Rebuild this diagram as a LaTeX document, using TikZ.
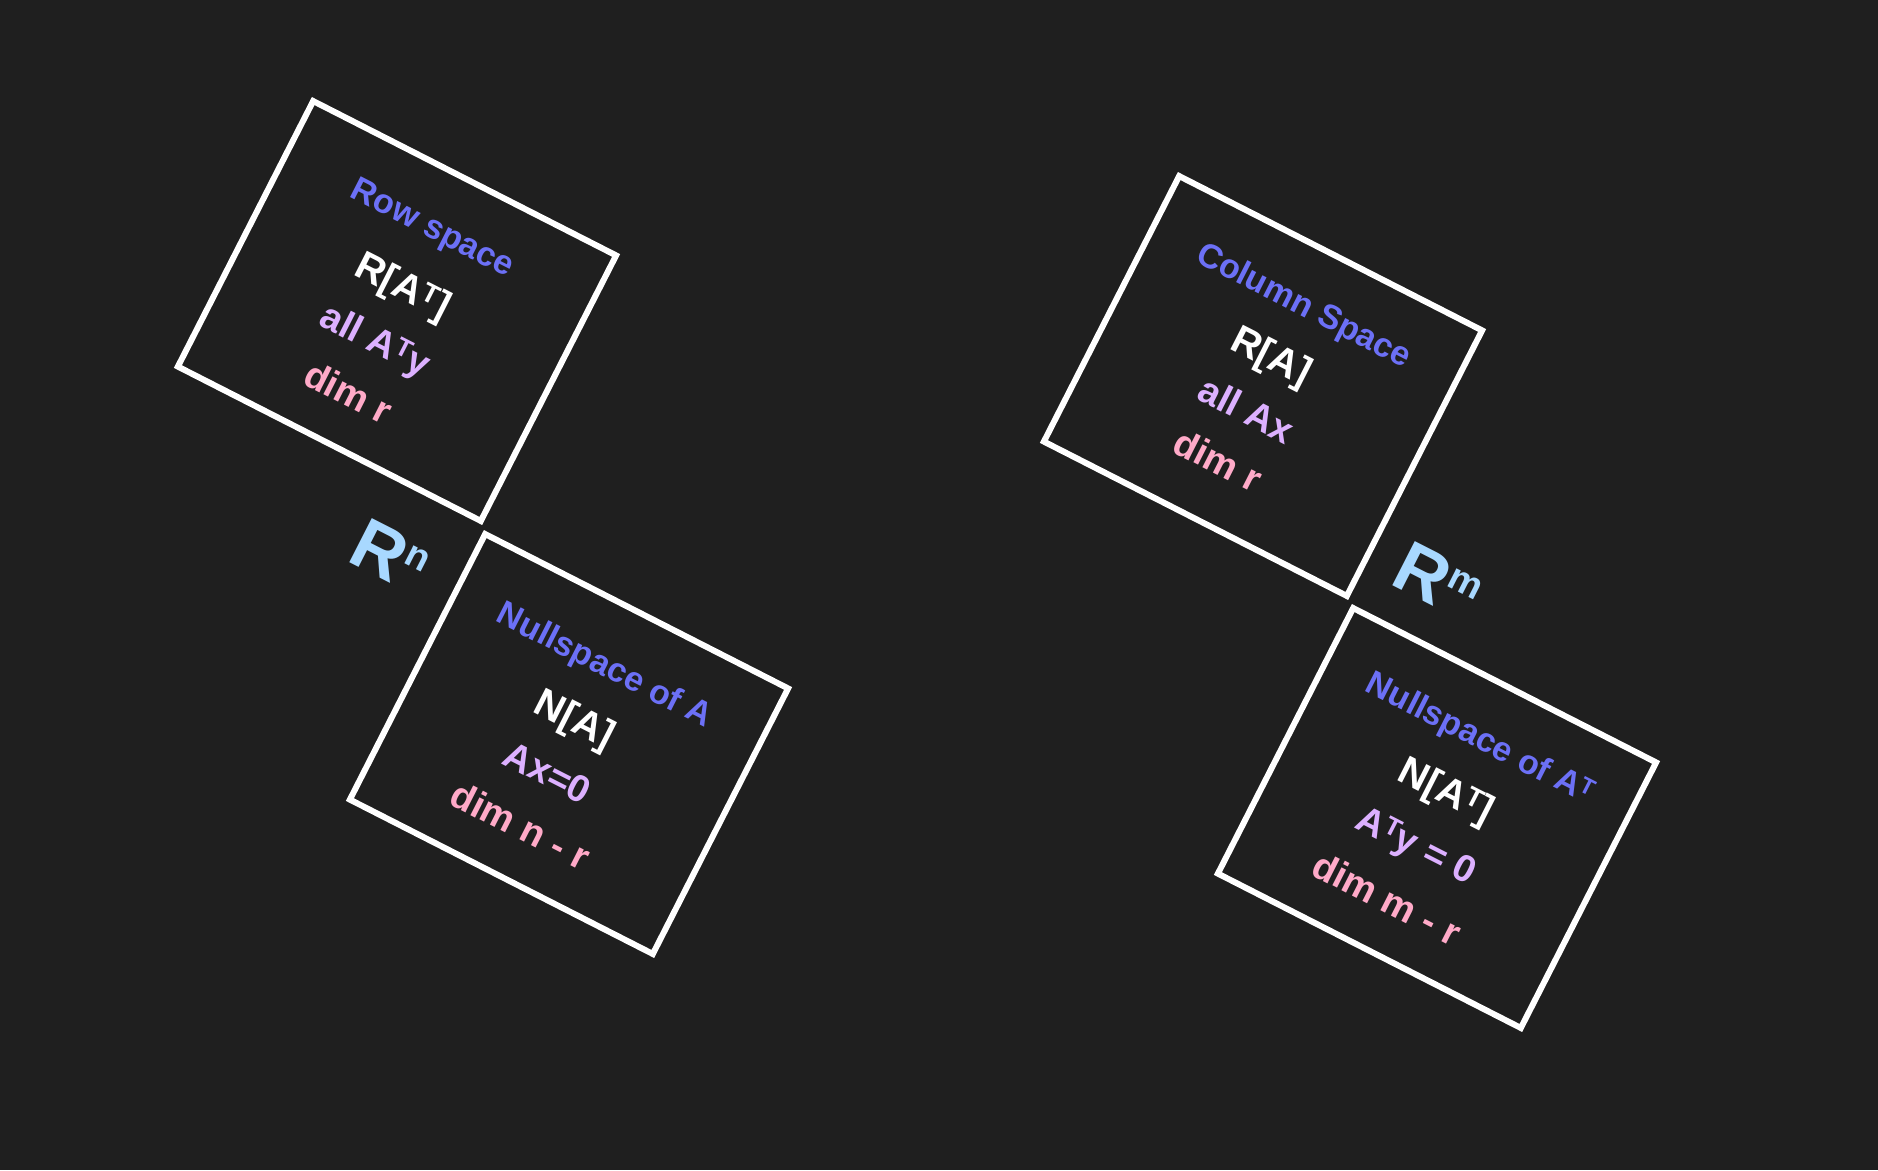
\documentclass[tikz,border=0pt]{standalone}
\usepackage{graphicx}
\usepackage{fontspec}
\newfontfamily\lbl{Liberation Sans}
\definecolor{bg}{HTML}{1F1F1F}
\definecolor{ttlblue}{RGB}{108,112,246}
\definecolor{lav}{RGB}{220,176,255}
\definecolor{pinkc}{RGB}{255,170,200}
\definecolor{skyc}{RGB}{168,216,255}
\newcommand\mysup[1]{\raisebox{0.24em}{\scalebox{0.68}{#1}}}
\tikzset{
  sq/.style={draw=white, line width=6pt, minimum width=340pt, minimum height=298pt, inner sep=0pt},
  ttl/.style={text=ttlblue, font=\lbl\bfseries\fontsize{34}{34}\selectfont, anchor=base, inner sep=0pt},
  wht/.style={text=white, font=\lbl\bfseries\fontsize{40}{40}\selectfont, anchor=base, inner sep=0pt},
  lv/.style={text=lav, font=\lbl\bfseries\fontsize{38}{38}\selectfont, anchor=base, inner sep=0pt},
  pk/.style={text=pinkc, font=\lbl\bfseries\fontsize{38}{38}\selectfont, anchor=base, inner sep=0pt},
  spc/.style={text=skyc, font=\lbl\bfseries\fontsize{72}{72}\selectfont, inner sep=0pt, rotate=-27}
}
\begin{document}
\begin{tikzpicture}[x=1pt,y=-1pt]
\useasboundingbox (0,0) rectangle (1878,1170);
\fill[bg] (0,0) rectangle (1878,1170);
% Row space
\begin{scope}[shift={(397,311)}, rotate=-27, transform shape]
  \node[sq] (rowsq) at (0,0) {};
  \node[ttl] (rowt) at (-6,-80) {Row space};
  \node[wht] (rowr) at (-6,-12) {R[A\mysup{T}]};
  \node[lv] (rowa) at (-6,48) {all A\mysup{T}y};
  \node[pk] (rowd) at (-6,108) {dim r};
\end{scope}
% Nullspace of A
\begin{scope}[shift={(569,744)}, rotate=-27, transform shape]
  \node[sq] (nullsq) at (0,0) {};
  \node[ttl] (nullt) at (-4,-76) {Nullspace of A};
  \node[wht] (nulln) at (-6,-12) {N[A]};
  \node[lv] (nulla) at (-6,48) {Ax=0};
  \node[pk] (nulld) at (-6,108) {dim n - r};
\end{scope}
% Column space
\begin{scope}[shift={(1263,386)}, rotate=-27, transform shape]
  \node[sq] (colsq) at (0,0) {};
  \node[ttl] (colt) at (0,-80) {Column Space};
  \node[wht] (colr) at (-6,-18) {R[A]};
  \node[lv] (cola) at (-4,42) {all Ax};
  \node[pk] (cold) at (-6,100) {dim r};
\end{scope}
% Left nullspace
\begin{scope}[shift={(1437,818)}, rotate=-27, transform shape]
  \node[sq] (lnsq) at (0,0) {};
  \node[ttl] (lnt) at (2,-80) {Nullspace of A\mysup{T}};
  \node[wht] (lnn) at (-4,-16) {N[A\mysup{T}]};
  \node[lv] (lna) at (-6,46) {A\mysup{T}y = 0};
  \node[pk] (lnd) at (-8,108) {dim m - r};
\end{scope}
\node[spc] (rn) at (390,555) {R\raisebox{24pt}{\fontsize{38}{38}\selectfont n}};
\node[spc] (rm) at (1438,581) {R\raisebox{24pt}{\fontsize{38}{38}\selectfont m}};
\end{tikzpicture}
\end{document}
